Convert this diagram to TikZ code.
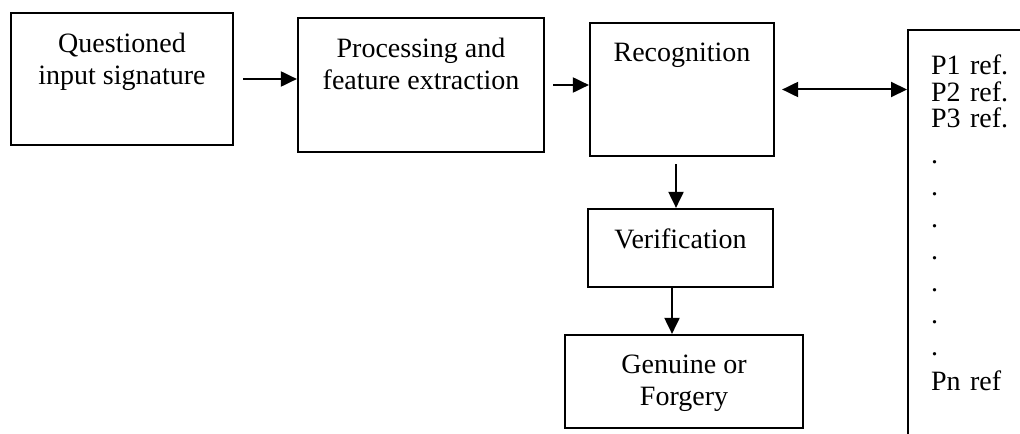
\documentclass[tikz,border=0pt]{standalone}
\usepackage{fontspec}
\setmainfont{Liberation Serif}
\usepackage{tikz}
\usetikzlibrary{arrows.meta}
\tikzstyle{block}=[draw, line width=1.1pt, inner xsep=0pt, inner ysep=10pt]
\tikzstyle{store}=[draw, line width=1.1pt, align=left, inner xsep=11.5pt, inner ysep=12.4pt, text width=60pt, text depth=200pt]
\tikzstyle{edge} = [draw, line width=1pt, -{Triangle[length=8pt,width=7.5pt]}]
\tikzstyle{twoway} = [draw, line width=1pt, {Triangle[length=8pt,width=7.5pt]}-{Triangle[length=8pt,width=7.5pt]}]

\begin{document}
\begin{tikzpicture}[x=0.5pt, y=-0.5pt, font=\fontsize{14}{16}\selectfont]

  \useasboundingbox (0,0) rectangle (1020,433);
  \clip (0,0) rectangle (1020,433);

  % process blocks
  \foreach \x/\y/\name/\bw/\bh/\txt in {122/79/quest/111/46/{Questioned\\input signature},
                                        421/85/proc/123/47/{Processing and\\feature extraction},
                                        682/89.5/recog/92/46.5/{Recognition},
                                        680.5/248/verif/92.5/19/{Verification},
                                        684/381.5/gen/119/26.5/{Genuine or\\Forgery}}
          \node[block] (\name) at (\x, \y) {\parbox[c][\bh pt][t]{\bw pt}{\centering \txt}};

  % reference store, runs off the page
  \node[store, anchor=north west] (refs) at (907, 29)
       {P1 ref.\\[-2.75pt] P2 ref.\\[-2.75pt] P3 ref.\\[2pt] .\\ .\\ .\\ .\\ .\\ .\\ .\\[1.5pt] Pn ref};

  \path[edge] ([xshift=4.5pt]quest.east) -- (quest.east -| proc.west);
  \path[edge] ([xshift=4pt]proc.east) -- (proc.east -| recog.west);
  \path[twoway] ([xshift=3.5pt]recog.east) -- (recog.east -| refs.west);
  \path[edge] ([xshift=-3pt, yshift=-3.5pt]recog.south) -- ([xshift=-2.25pt]verif.north);
  \path[edge] ([xshift=-4.25pt]verif.south) -- ([xshift=-6pt]gen.north);

\end{tikzpicture}
\end{document}
